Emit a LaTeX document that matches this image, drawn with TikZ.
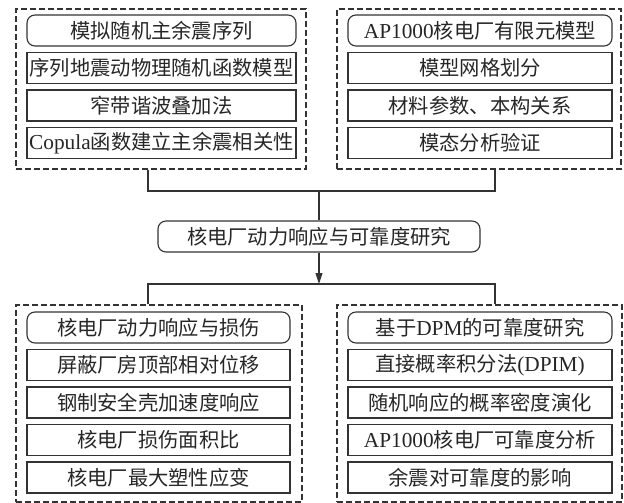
\documentclass[tikz,border=0pt]{standalone}
\usepackage{fontspec}
\setmainfont{Liberation Serif}[Scale=1.05]
\newfontfamily\cjk{Noto Sans CJK SC}
\newcommand{\lat}[1]{{\rmfamily #1}}
\usetikzlibrary{arrows.meta}
\definecolor{ln}{HTML}{333333}
\tikzset{
  item/.style={draw=ln, line width=1.1pt, minimum height=31pt, inner sep=0pt, font=\fontsize{20.3}{22}\selectfont\cjk, text=black!85},
  headitem/.style={item, rounded corners=8pt},
  grp/.style={draw=ln, line width=1.1pt, dash pattern=on 6pt off 3pt},
  conn/.style={draw=ln, line width=1.1pt},
}
\begin{document}
\begin{tikzpicture}[x=1pt,y=-1pt]
\useasboundingbox (0,0) rectangle (624,503);
% dashed groups
\node[grp, minimum width=290pt, minimum height=160pt, inner sep=0pt] (TL) at (161,89) {};
\node[grp, minimum width=284pt, minimum height=160pt, inner sep=0pt] (TR) at (479,89) {};
\node[grp, minimum width=286pt, minimum height=197pt, inner sep=0pt] (BL) at (159,403.5) {};
\node[grp, minimum width=285pt, minimum height=197pt, inner sep=0pt] (BR) at (479.5,403.5) {};
% top left items
\node[headitem, minimum width=269pt] (a1) at (161.5,30.5) {模拟随机主余震序列};
\node[item, minimum width=269pt] (a2) at (161.5,68) {序列地震动物理随机函数模型};
\node[item, minimum width=269pt] (a3) at (161.5,105.5) {窄带谐波叠加法};
\node[item, minimum width=269pt] (a4) at (161.5,143) {\lat{Copula}函数建立主余震相关性};
% top right items
\node[headitem, minimum width=264pt] (b1) at (480,30.5) {\lat{AP1000}核电厂有限元模型};
\node[item, minimum width=264pt] (b2) at (480,68) {模型网格划分};
\node[item, minimum width=264pt] (b3) at (480,105.5) {材料参数、本构关系};
\node[item, minimum width=264pt] (b4) at (480,143) {模态分析验证};
% center
\node[headitem, minimum width=322pt] (cen) at (319,236.5) {核电厂动力响应与可靠度研究};
% bottom left items
\node[headitem, minimum width=263pt] (c1) at (158.5,327.5) {核电厂动力响应与损伤};
\node[item, minimum width=263pt] (c2) at (158.5,365) {屏蔽厂房顶部相对位移};
\node[item, minimum width=263pt] (c3) at (158.5,402.5) {钢制安全壳加速度响应};
\node[item, minimum width=263pt] (c4) at (158.5,440) {核电厂损伤面积比};
\node[item, minimum width=263pt] (c5) at (158.5,477.5) {核电厂最大塑性应变};
% bottom right items
\node[headitem, minimum width=264pt] (d1) at (480,327.5) {基于\lat{DPM}的可靠度研究};
\node[item, minimum width=264pt] (d2) at (480,365) {直接概率积分法\lat{(DPIM)}};
\node[item, minimum width=264pt] (d3) at (480,402.5) {随机响应的概率密度演化};
\node[item, minimum width=264pt] (d4) at (480,440) {\lat{AP1000}核电厂可靠度分析};
\node[item, minimum width=264pt] (d5) at (480,477.5) {余震对可靠度的影响};
% junction coordinates
\coordinate (j1) at (148,191);
\coordinate (j2) at (495,191);
\coordinate (k1) at (148,284);
\coordinate (k2) at (495,284);
% connectors
\draw[conn] (TL.south -| j1) -- (j1) -- (j2) -- (TR.south -| j2);
\draw[conn] (cen.north |- j1) -- (cen.north);
\draw[conn] (BL.north -| k1) -- (k1) -- (k2) -- (BR.north -| k2);
\draw[conn, -{Triangle[width=7pt,length=11pt]}] (cen.south) -- (cen.south |- k1);
\end{tikzpicture}
\end{document}
